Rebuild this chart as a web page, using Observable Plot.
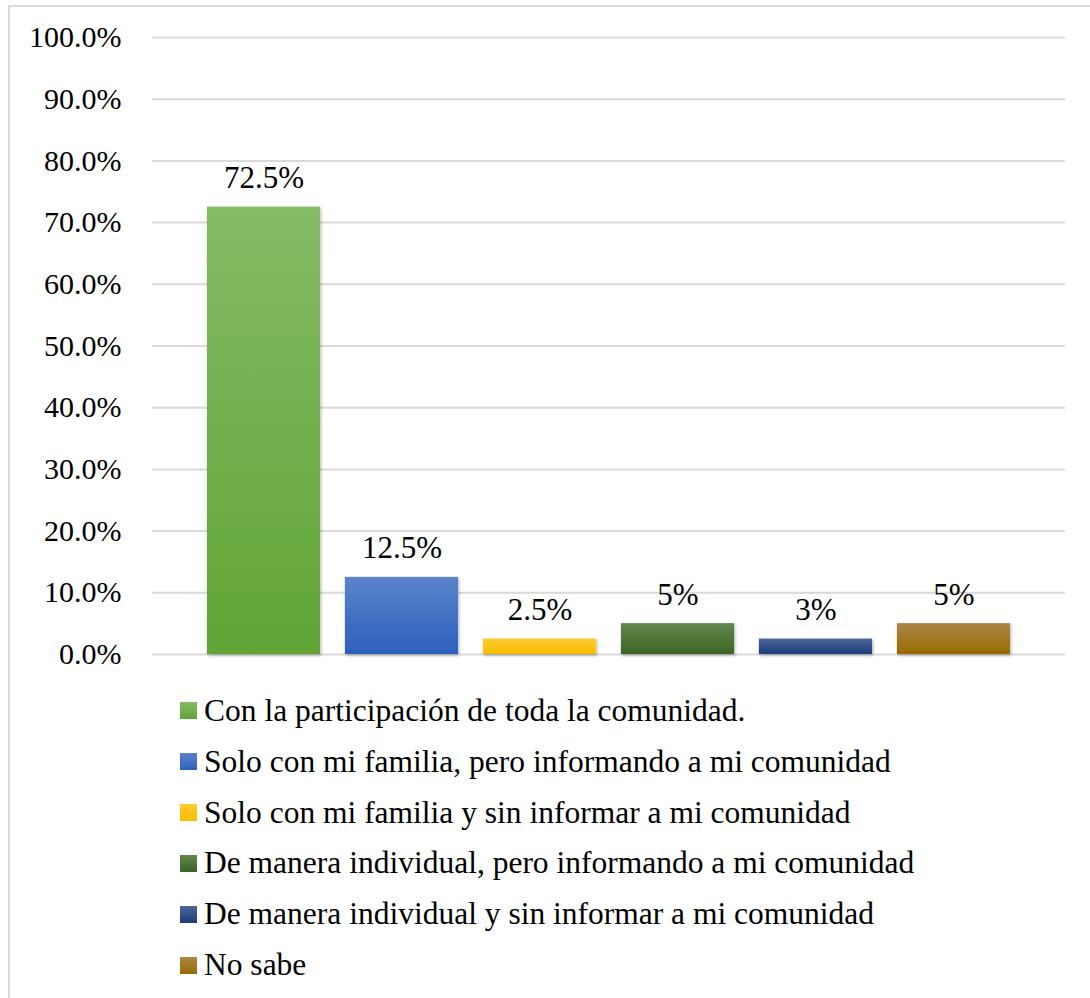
<!DOCTYPE html>
<html>
<head>
<meta charset="utf-8">
<script src="https://cdn.jsdelivr.net/npm/d3@7"></script>
<script src="https://cdn.jsdelivr.net/npm/@observablehq/plot@0.6"></script>
</head>
<body style="margin:0;padding:0;background:#fff;overflow:hidden;width:1090px;height:998px;position:relative;font-family:'Liberation Serif'">
<div id="frame" style="position:absolute;left:8px;top:5px;width:2000px;height:2000px;border-left:2px solid #d9d9d9;border-top:2px solid #d9d9d9;"></div>
<div id="chart" style="position:absolute;left:0;top:0;"></div>
<div id="legend" style="position:absolute;left:180px;top:0;"></div>
<script>
const categories = [
  "Con la participación de toda la comunidad.",
  "Solo con mi familia, pero informando a mi comunidad",
  "Solo con mi familia y sin informar a mi comunidad",
  "De manera individual, pero informando a mi comunidad",
  "De manera individual y sin informar a mi comunidad",
  "No sabe"
];
const values = [72.5, 12.5, 2.5, 5, 2.5, 5];
const valueLabels = ["72.5%", "12.5%", "2.5%", "5%", "3%", "5%"];
const yTicks = [0, 10, 20, 30, 40, 50, 60, 70, 80, 90, 100];
const colorsTop = ["#84bb66", "#5b83cd", "#ffcb30", "#628650", "#4e659a", "#aa8748"];
const colorsBottom = ["#62a436", "#2d60bc", "#f8bd00", "#3b6522", "#1e3b78", "#996a00"];

const data = categories.map((c, i) => ({cat: c, value: values[i], label: valueLabels[i]}));
const gradIds = categories.map((_, i) => `grad${i}`);

const font = "Liberation Serif";

const chart = Plot.plot({
  width: 1090,
  height: 660,
  marginLeft: 152,
  marginRight: 25,
  marginTop: 37,
  marginBottom: 6,
  x: {domain: categories, paddingInner: 0.18, paddingOuter: 0.398, round: false, axis: null},
  y: {domain: [0, 100], axis: null},
  color: {domain: categories, range: gradIds.map(id => `url(#${id})`)},
  marks: [
    Plot.ruleY(yTicks, {stroke: "#d9d9d9", strokeWidth: 2}),
    Plot.barY(data, {x: "cat", y: "value", fill: "cat"}),
    Plot.text(data, {x: "cat", y: "value", text: "label", dy: -29, fontSize: 31, fontFamily: font, fill: "#000"}),
    Plot.text(yTicks, {frameAnchor: "left", y: d => d, text: d => d.toFixed(1) + "%", dx: -31, textAnchor: "end", fontSize: 30, fontFamily: font, fill: "#000"})
  ]
});
chart.style.background = "transparent";
chart.style.overflow = "visible";

// gradient + shadow definitions
const ns = "http://www.w3.org/2000/svg";
const defs = document.createElementNS(ns, "defs");
gradIds.forEach((id, i) => {
  const g = document.createElementNS(ns, "linearGradient");
  g.setAttribute("id", id);
  g.setAttribute("x1", "0"); g.setAttribute("y1", "0");
  g.setAttribute("x2", "0"); g.setAttribute("y2", "1");
  const s1 = document.createElementNS(ns, "stop");
  s1.setAttribute("offset", "0"); s1.setAttribute("stop-color", colorsTop[i]);
  const s2 = document.createElementNS(ns, "stop");
  s2.setAttribute("offset", "1"); s2.setAttribute("stop-color", colorsBottom[i]);
  g.appendChild(s1); g.appendChild(s2);
  defs.appendChild(g);
});
const f = document.createElementNS(ns, "filter");
f.setAttribute("id", "shadow");
f.setAttribute("x", "-10%"); f.setAttribute("y", "-10%");
f.setAttribute("width", "130%"); f.setAttribute("height", "130%");
const ds = document.createElementNS(ns, "feDropShadow");
ds.setAttribute("dx", "1"); ds.setAttribute("dy", "1.5");
ds.setAttribute("stdDeviation", "1.5");
ds.setAttribute("flood-color", "#000"); ds.setAttribute("flood-opacity", "0.3");
f.appendChild(ds);
defs.appendChild(f);
chart.insertBefore(defs, chart.firstChild);
chart.querySelectorAll("[aria-label='bar'] rect").forEach(r => r.setAttribute("filter", "url(#shadow)"));

document.getElementById("chart").appendChild(chart);

// legend below the chart
const legend = document.getElementById("legend");
categories.forEach((c, i) => {
  const row = document.createElement("div");
  row.setAttribute("style", `position:absolute;left:0;top:${710.5 + i * 50.9 - 18}px;height:36px;display:flex;align-items:center;white-space:nowrap;`);
  const sw = document.createElement("div");
  sw.setAttribute("style", `width:17px;height:17px;margin-right:7px;flex:none;background:linear-gradient(to bottom, ${colorsTop[i]}, ${colorsBottom[i]});`);
  const t = document.createElement("span");
  t.setAttribute("style", "font-family:'Liberation Serif';font-size:31.5px;color:#000;line-height:1;");
  t.textContent = c;
  row.appendChild(sw);
  row.appendChild(t);
  legend.appendChild(row);
});
</script>
</body>
</html>
